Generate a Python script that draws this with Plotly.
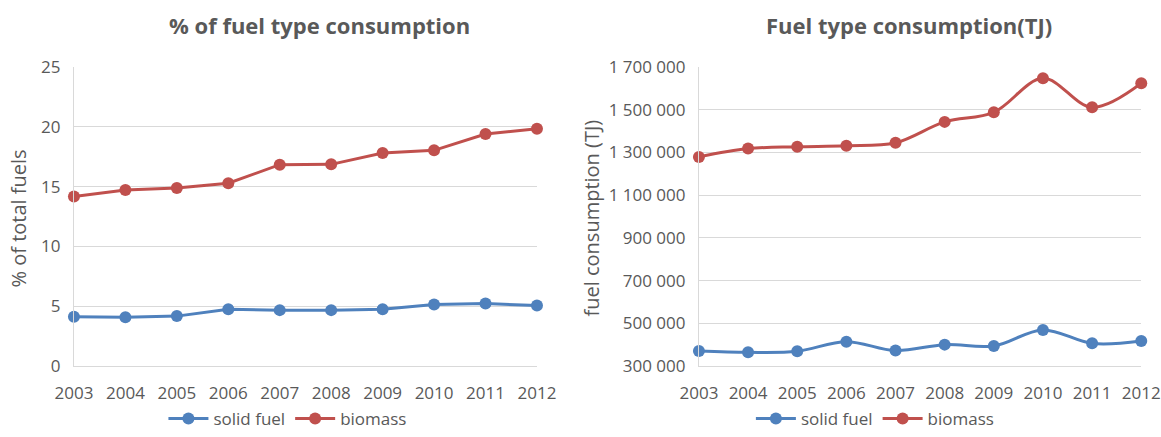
import plotly.graph_objects as go

years = [2003, 2004, 2005, 2006, 2007, 2008, 2009, 2010, 2011, 2012]

share_solid = [4.11, 4.08, 4.17, 4.75, 4.67, 4.67, 4.75, 5.14, 5.22, 5.06]
share_biomass = [14.17, 14.72, 14.89, 15.28, 16.83, 16.86, 17.81, 18.03, 19.39, 19.83]

tj_solid = [370000, 364000, 369000, 414000, 372000, 400000, 394000, 469000, 406000, 417000]
tj_biomass = [1279000, 1318000, 1326000, 1331000, 1345000, 1443000, 1488000, 1647000, 1511000, 1624000]

BLUE = "#4F81BD"
RED = "#C0504D"
GRAY = "#595959"
FONT = "Open Sans"

fig = go.Figure()


def add_line(x, y, name, color, xaxis, yaxis, legend, shape):
    fig.add_trace(go.Scatter(
        x=x, y=y, name=name, mode="lines+markers",
        line=dict(color=color, width=3, shape=shape),
        marker=dict(color=color, size=12),
        xaxis=xaxis, yaxis=yaxis, legend=legend, cliponaxis=False,
    ))


add_line(years, share_solid, "solid fuel", BLUE, "x", "y", "legend", "linear")
add_line(years, share_biomass, "biomass", RED, "x", "y", "legend", "linear")
add_line(years, tj_solid, "solid fuel", BLUE, "x2", "y2", "legend2", "spline")
add_line(years, tj_biomass, "biomass", RED, "x2", "y2", "legend2", "spline")

xcommon = dict(
    range=[2003, 2012], tickmode="array", tickvals=years, showgrid=False,
    showline=True, linecolor="#D9D9D9", ticks="", zeroline=False, automargin=False,
    ticklabelstandoff=12,
    tickfont=dict(family=FONT, size=17, color=GRAY),
)
ycommon = dict(
    showgrid=True, gridcolor="#D9D9D9", gridwidth=1, showline=True,
    linecolor="#D9D9D9", ticks="", zeroline=False, automargin=False,
    ticklabelstandoff=9,
    tickfont=dict(family=FONT, size=17, color=GRAY),
)

legend_font = dict(family=FONT, size=17, color=GRAY)
title_font = dict(family=FONT, size=22, color=GRAY)
axis_title_font = dict(family=FONT, size=20, color=GRAY)

fig.update_layout(
    width=1161, height=437,
    margin=dict(l=0, r=0, t=0, b=0),
    paper_bgcolor="white", plot_bgcolor="white",
    separators=". ",
    showlegend=True,
    xaxis=dict(domain=[0.0637, 0.4625], anchor="y", **xcommon),
    yaxis=dict(domain=[0.1625, 0.8467], anchor="x", range=[0, 25], dtick=5, **ycommon),
    xaxis2=dict(domain=[0.602, 0.983], anchor="y2", **xcommon),
    yaxis2=dict(domain=[0.1625, 0.8467], anchor="x2", range=[300000, 1700000],
                tickmode="array",
                tickvals=[300000, 500000, 700000, 900000, 1100000, 1300000, 1500000, 1700000],
                tickformat=",d", **ycommon),
    legend=dict(orientation="h", x=0.248, y=0, xanchor="center", yanchor="bottom",
                font=legend_font, itemwidth=40),
    legend2=dict(orientation="h", x=0.754, y=0, xanchor="center", yanchor="bottom",
                 font=legend_font, itemwidth=40),
    annotations=[
        dict(text="<b>% of fuel type consumption</b>", x=0.275, y=0.943,
             xanchor="center", yanchor="middle",
             xref="paper", yref="paper", showarrow=False, font=title_font),
        dict(text="<b>Fuel type consumption(TJ)</b>", x=0.783, y=0.943,
             xanchor="center", yanchor="middle",
             xref="paper", yref="paper", showarrow=False, font=title_font),
        dict(text="% of total fuels", x=18 / 1161, y=0.5, textangle=-90,
             xanchor="center", yanchor="middle",
             xref="paper", yref="paper", showarrow=False, font=axis_title_font),
        dict(text="fuel consumption (TJ)", x=591 / 1161, y=0.5, textangle=-90,
             xanchor="center", yanchor="middle",
             xref="paper", yref="paper", showarrow=False, font=axis_title_font),
    ],
)

fig.write_html("out.html", config={"displayModeBar": False},
               post_script="document.body.style.margin='0px';")
